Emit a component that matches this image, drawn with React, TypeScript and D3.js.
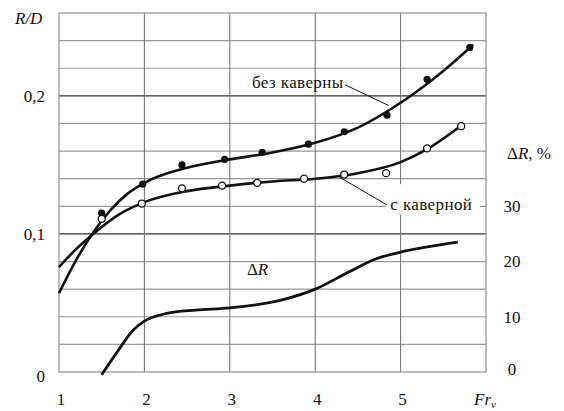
import React from "react";
import * as d3 from "d3";

// curve fits
const noCavX = [1.0, 1.2, 1.4, 1.6, 1.8, 2.0, 2.5, 3.0, 3.5, 4.0, 4.5, 5.0, 5.5, 5.85];
const noCavY = [0.057, 0.081, 0.101, 0.117, 0.129, 0.137, 0.148, 0.154, 0.159, 0.166, 0.177, 0.195, 0.218, 0.237];

const cavX = [1.0, 1.2, 1.4, 1.7, 2.0, 2.5, 3.0, 3.5, 4.0, 4.5, 5.0, 5.3, 5.7];
const cavY = [0.076, 0.089, 0.100, 0.114, 0.123, 0.131, 0.135, 0.138, 0.140, 0.144, 0.152, 0.161, 0.178];

const dRX = [1.5, 1.68, 1.87, 2.0, 2.26, 2.6, 3.0, 3.6, 4.0, 4.38, 4.73, 5.0, 5.67];
const dRY = [-0.5, 3.6, 7.6, 9.2, 10.6, 11.2, 11.6, 13.0, 15.0, 18.0, 20.6, 21.7, 23.5];

// measured points
const filledX = [1.5, 1.98, 2.44, 2.94, 3.38, 3.92, 4.34, 4.84, 5.31, 5.81];
const filledY = [0.115, 0.136, 0.150, 0.154, 0.159, 0.165, 0.174, 0.186, 0.212, 0.235];
const openX = [1.5, 1.97, 2.44, 2.91, 3.32, 3.87, 4.34, 4.83, 5.31, 5.71];
const openY = [0.111, 0.122, 0.133, 0.135, 0.137, 0.140, 0.143, 0.144, 0.162, 0.178];

const xTicks = [1, 2, 3, 4, 5];
const xGrid = [2, 3, 4, 5];
const yTicks = [0, 0.1, 0.2];
const yTickLabels = ["0", "0,1", "0,2"];
const yGrid = d3.range(0.02, 0.26, 0.02);
const rTicks = [0, 10, 20, 30];

const W = 564, H = 411;
const left = 59, right = 486, top = 13, bottom = 372;
const font = "Liberation Serif, Times New Roman, serif";

export default function App() {
  const x = d3.scaleLinear().domain([1, 6]).range([left, right]);
  const y = d3.scaleLinear().domain([0, 0.26]).range([bottom, top]);
  const yR = d3.scaleLinear().domain([0, 65]).range([bottom, top]);

  const line = d3.line<[number, number]>()
    .x(d => x(d[0]))
    .curve(d3.curveMonotoneX);

  const noCav = line.y(d => y(d[1]))(noCavX.map((v, i) => [v, noCavY[i]]) as [number, number][]);
  const cav = line.y(d => y(d[1]))(cavX.map((v, i) => [v, cavY[i]]) as [number, number][]);
  const dR = line.y(d => yR(d[1]))(dRX.map((v, i) => [v, dRY[i]]) as [number, number][]);

  return (
    <svg width={W} height={H}
      style={{ position: "absolute", left: 0, top: 0, background: "#fff", fontFamily: font, fontSize: 17 }}>
      <rect width={W} height={H} fill="#fff" />
      {/* grid */}
      {yGrid.map(v => {
        const major = Math.abs(v - 0.1) < 1e-6 || Math.abs(v - 0.2) < 1e-6;
        return (
          <line key={v} x1={left} x2={right} y1={y(v)} y2={y(v)}
            stroke={major ? "#333" : "#999"} strokeWidth={major ? 1.3 : 1.2} />
        );
      })}
      {xGrid.map(v => (
        <line key={v} x1={x(v)} x2={x(v)} y1={top} y2={bottom} stroke="#777" strokeWidth={1.1} />
      ))}
      <rect x={left} y={top} width={right - left} height={bottom - top}
        fill="none" stroke="#999" strokeWidth={1.3} />

      {/* label box for "с каверной" over grid */}
      <rect x={x(4.83)} y={y(0.136)} width={x(5.93) - x(4.83)} height={y(0.114) - y(0.136)} fill="#fff" />

      {/* curves */}
      <path d={noCav ?? ""} fill="none" stroke="#111" strokeWidth={2.6} />
      <path d={cav ?? ""} fill="none" stroke="#111" strokeWidth={2.6} />
      <path d={dR ?? ""} fill="none" stroke="#111" strokeWidth={2.8} />

      {filledX.map((v, i) => (
        <circle key={"f" + i} cx={x(v)} cy={y(filledY[i])} r={3.6} fill="#111" />
      ))}
      {openX.map((v, i) => (
        <circle key={"o" + i} cx={x(v)} cy={y(openY[i])} r={3.5} fill="#fff" stroke="#111" strokeWidth={1.3} />
      ))}

      {/* annotations */}
      <text x={x(3.26)} y={y(0.206)} fill="#111" letterSpacing={0.4}>без каверны</text>
      <line x1={x(4.35)} y1={y(0.208)} x2={x(4.86)} y2={y(0.193)} stroke="#111" strokeWidth={1} />
      <text x={x(4.88)} y={y(0.117)} fill="#111" letterSpacing={0.4}>с каверной</text>
      <line x1={x(4.28)} y1={y(0.1413)} x2={x(4.84)} y2={y(0.121)} stroke="#111" strokeWidth={1} />
      <text x={x(3.2)} y={yR(17.6)} fill="#111">Δ<tspan fontStyle="italic">R</tspan></text>

      {/* left axis */}
      {yTicks.map((v, i) => (
        <text key={v} x={45} y={y(v)} dy={v === 0 ? "0.6em" : "0.35em"} textAnchor="end" fill="#111">{yTickLabels[i]}</text>
      ))}
      <text x={15} y={24} fontStyle="italic" fill="#111">R/D</text>

      {/* right axis */}
      {rTicks.map(v => (
        <text key={v} x={512} y={yR(v)} dy={v === 0 ? "0.2em" : "0.35em"} textAnchor="middle" fill="#111">{v}</text>
      ))}
      <text x={507} y={159} fill="#111">Δ<tspan fontStyle="italic">R</tspan>, %</text>

      {/* bottom axis */}
      {xTicks.map(v => (
        <text key={v} x={x(v) + 2} y={405} textAnchor="middle" fill="#111">{v}</text>
      ))}
      <text x={474} y={405} fontStyle="italic" fill="#111">Fr<tspan fontSize={11} dy={3}>v</tspan></text>
    </svg>
  );
}
